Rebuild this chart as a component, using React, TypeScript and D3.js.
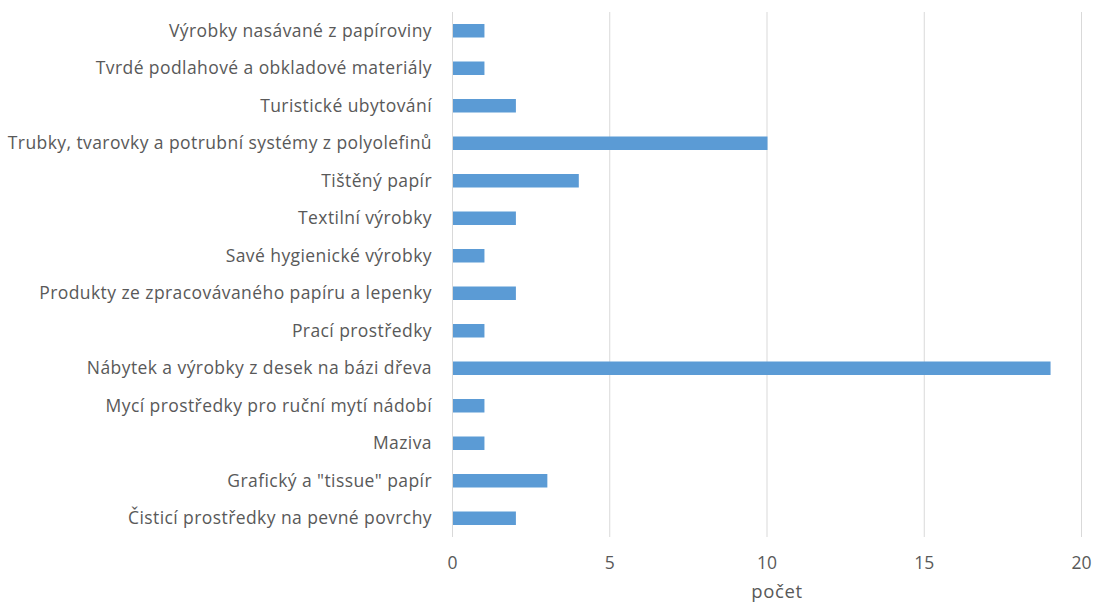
import React from "react";
import * as d3 from "d3";

const categories = [
  "Výrobky nasávané z papíroviny",
  "Tvrdé podlahové a obkladové materiály",
  "Turistické ubytování",
  "Trubky, tvarovky a potrubní systémy z polyolefinů",
  "Tištěný papír",
  "Textilní výrobky",
  "Savé hygienické výrobky",
  "Produkty ze zpracovávaného papíru a lepenky",
  "Prací prostředky",
  "Nábytek a výrobky z desek na bázi dřeva",
  "Mycí prostředky pro ruční mytí nádobí",
  "Maziva",
  "Grafický a \"tissue\" papír",
  "Čisticí prostředky na pevné povrchy",
];
const values = [1, 1, 2, 10, 4, 2, 1, 2, 1, 19, 1, 1, 3, 2];
const xTicks = [0, 5, 10, 15, 20];
const xTitle = "počet";

export default function App() {
  const W = 1098, H = 606;
  const x = d3.scaleLinear().domain([0, 20]).range([452.5, 1081.5]);
  const y = d3.scaleBand<string>().domain(categories).range([12, 537]).paddingInner(0.64).paddingOuter(0.32);
  const font = "'Open Sans', 'Liberation Sans', sans-serif";
  return (
    <svg width={W} height={H} style={{ position: "absolute", left: 0, top: 0, background: "#fff" }}>
      {xTicks.map((t) => (
        <line key={t} x1={x(t)} x2={x(t)} y1={12} y2={537} stroke="#D9D9D9" strokeWidth={1} />
      ))}
      {categories.map((c, i) => (
        <rect key={c} x={x(0) + 0.5} y={y(c)} width={x(values[i]) - x(0)} height={y.bandwidth()} fill="#5B9BD5" />
      ))}
      {categories.map((c) => (
        <text key={c} x={432} y={(y(c) as number) + y.bandwidth() / 2} dy="0.35em" textAnchor="end"
          fontFamily={font} fontSize={17.5} letterSpacing={0.42} fill="#595959">{c}</text>
      ))}
      {xTicks.map((t) => (
        <text key={t} x={x(t)} y={563} dy="0.35em" textAnchor="middle" fontFamily={font} fontSize={17.5} fill="#595959">{t}</text>
      ))}
      <text x={x(10) + 10} y={592} dy="0.35em" textAnchor="middle" fontFamily={font} fontSize={18.5} letterSpacing={0.6} fill="#595959">{xTitle}</text>
    </svg>
  );
}
